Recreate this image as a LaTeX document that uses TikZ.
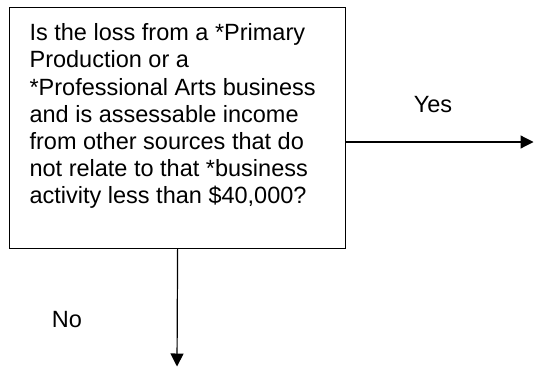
\documentclass[tikz,border=0pt]{standalone}
\usepackage{fontspec}
\setmainfont{Liberation Sans}
\usetikzlibrary{arrows.meta}
\begin{document}
\begin{tikzpicture}[x=1pt, y=-1pt, line width=1.2pt,
		txt/.style={font=\fontsize{23.5}{27.2}\selectfont},
		qbox/.style={draw, anchor=north west, inner xsep=20pt, inner ysep=16pt},
		flow/.style={-{Triangle[length=13pt,width=13pt]}}]
		\useasboundingbox (0,0) rectangle (534,367);
		
		%question box
		\node (q) [qbox, txt] at (9,7){\parbox[t][209pt][t]{296pt}{\raggedright
			Is the loss from a *Primary\\
			Production or a\\
			{}*Professional Arts business\\
			and is assessable income\\
			from other sources that do\\
			not relate to that *business\\
			activity less than \$40,000?}};
		
		%answers
		\coordinate (yesend) at (533.5,142);
		\coordinate (noend) at (177,366.5);
		\draw[flow] (q.east |- yesend) -- (yesend);
		\draw[flow] (q.south) -- (noend);
		\node (yes) [txt] at (433,105){Yes};
		\node (no) [txt] at (67,320){No};
		\end{tikzpicture}
\end{document}
